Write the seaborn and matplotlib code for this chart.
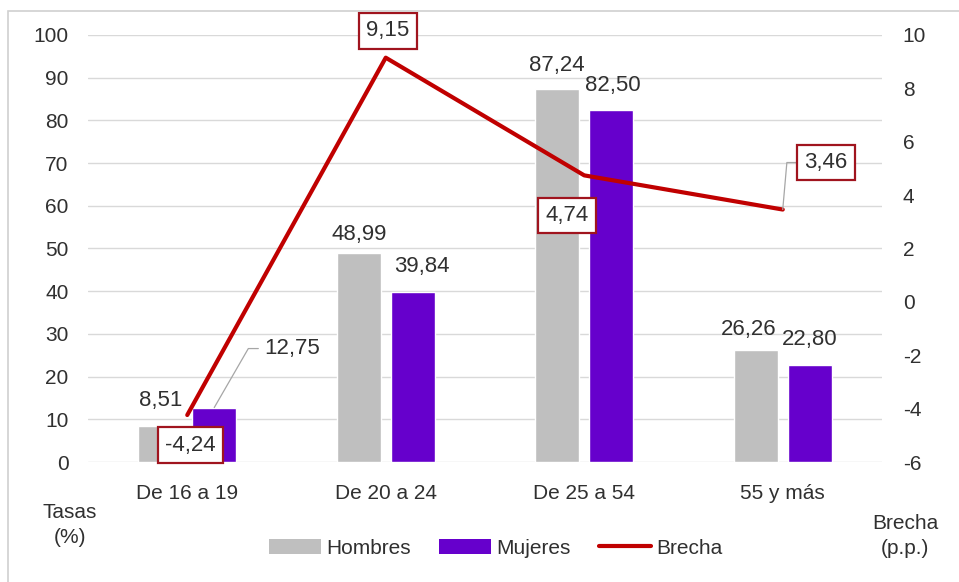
import numpy as np
import pandas as pd
import matplotlib
matplotlib.use("Agg")
import matplotlib.pyplot as plt
from matplotlib.patches import Patch, Rectangle
from matplotlib.lines import Line2D
import seaborn as sns

categorias = ["De 16 a 19", "De 20 a 24", "De 25 a 54", "55 y más"]
hombres = [8.51, 48.99, 87.24, 26.26]
mujeres = [12.75, 39.84, 82.50, 22.80]
brecha = [-4.24, 9.15, 4.74, 3.46]
ticks_izq = list(range(0, 101, 10))
ticks_der = list(range(-6, 11, 2))

sns.set_theme(style="white")
plt.rcParams["font.family"] = ["Liberation Sans", "DejaVu Sans"]
plt.rcParams["axes.unicode_minus"] = False

GRIS = "#BFBFBF"
MORADO = "#6600CC"
ROJO = "#C00000"
BORDE = "#A0141E"
TXT = "#303030"

df = pd.DataFrame({
    "Edad": categorias * 2,
    "Grupo": ["Hombres"] * 4 + ["Mujeres"] * 4,
    "Tasa": hombres + mujeres,
})

fig = plt.figure(figsize=(9.59, 5.82), dpi=100)
ax = fig.add_axes([88 / 959, 1 - 462 / 582, (882 - 88) / 959, (462 - 35) / 582])

sns.barplot(data=df, x="Edad", y="Tasa", hue="Grupo", order=categorias,
            hue_order=["Hombres", "Mujeres"],
            palette={"Hombres": GRIS, "Mujeres": MORADO}, saturation=1,
            width=0.544, gap=0.18, legend=False, ax=ax, zorder=2,
            errorbar=None)

ax.set_xlim(-0.5, len(categorias) - 0.5)
ax.set_ylim(0, 100)
ax.set_yticks(ticks_izq)
ax.set_yticklabels([str(t) for t in ticks_izq])
ax.set_xlabel("")
ax.set_ylabel("")
ax.yaxis.grid(True, color="#D9D9D9", linewidth=1.0, zorder=0)
ax.set_axisbelow(True)
for s in ax.spines.values():
    s.set_visible(False)
ax.tick_params(axis="y", length=0, pad=14, labelsize=15, labelcolor=TXT)
ax.tick_params(axis="x", length=0, pad=16, labelsize=15, labelcolor=TXT)

ax2 = ax.twinx()
sns.lineplot(x=np.arange(len(categorias)), y=brecha, ax=ax2, color=ROJO,
             linewidth=3.0, zorder=3)
ax2.set_ylim(-6, 10)
ax2.set_yticks(ticks_der)
ax2.set_yticklabels([str(t) for t in ticks_der])
ax2.set_xlim(-0.5, len(categorias) - 0.5)
for s in ax2.spines.values():
    s.set_visible(False)
ax2.grid(False)
ax2.tick_params(axis="y", length=0, pad=15, labelsize=15, labelcolor=TXT)
ax2.set_ylabel("")

def fmt(v):
    return f"{v:.2f}".replace(".", ",")

# bar labels
off_h = [(0, 25), (0, 18), (0, 24), (-7, 20)]
off_m = [(78, 59), (9, 25), (2, 24), (0, 25)]
for k, (cont, vals, offs) in enumerate([(ax.containers[0], hombres, off_h),
                                         (ax.containers[1], mujeres, off_m)]):
    for i, (bar, v) in enumerate(zip(cont, vals)):
        xc = bar.get_x() + bar.get_width() / 2
        dx, dy = offs[i]
        kw = {}
        if k == 1 and i == 0:
            kw["arrowprops"] = dict(arrowstyle="-", color="#A6A6A6", lw=0.9,
                                    shrinkA=2, shrinkB=0, relpos=(0, 0.5),
                                    connectionstyle="angle,angleA=180,angleB=60,rad=0")
        ax.annotate(fmt(v), xy=(xc, bar.get_height()), xytext=(dx, dy),
                    textcoords="offset pixels", ha="center", va="center",
                    fontsize=16, color=TXT, zorder=5, **kw)

# line labels
off_b = [(3, -30), (2, 27), (-17, -40), (43, 47)]
for i, v in enumerate(brecha):
    kw = {}
    if i == 3:
        kw["arrowprops"] = dict(arrowstyle="-", color="#A6A6A6", lw=0.9,
                                shrinkA=0, shrinkB=0, relpos=(0, 0.5),
                                connectionstyle="angle,angleA=180,angleB=85,rad=0")
    ax2.annotate(fmt(v), xy=(i, v), xytext=off_b[i], textcoords="offset pixels",
                 ha="center", va="center", fontsize=16, color=TXT, zorder=6,
                 bbox=dict(boxstyle="square,pad=0.33", fc="white", ec=BORDE, lw=1.6),
                 **kw)

# axis titles
fig.text(70 / 959, 1 - 525 / 582, "Tasas\n(%)", ha="center", va="center",
         fontsize=15, color=TXT, linespacing=1.35)
fig.text(905 / 959, 1 - 536 / 582, "Brecha\n(p.p.)", ha="center", va="center",
         fontsize=15, color=TXT, linespacing=1.35)

handles = [Patch(facecolor=GRIS, edgecolor="none"),
           Patch(facecolor=MORADO, edgecolor="none"),
           Line2D([0], [0], color=ROJO, linewidth=3.0)]
fig.legend(handles, ["Hombres", "Mujeres", "Brecha"], loc="center",
           bbox_to_anchor=(496 / 959, 1 - 548 / 582), ncol=3, frameon=False,
           fontsize=15, handlelength=2.5, handletextpad=0.25, columnspacing=1.35,
           labelcolor=TXT)

# outer frame
fig.patches.append(Rectangle((8 / 959, -0.1), 1.2, 1.1 - 11 / 582,
                             transform=fig.transFigure, fill=False,
                             edgecolor="#D0D0D0", linewidth=1.2, zorder=0))

fig.savefig("out.png", dpi=100)
